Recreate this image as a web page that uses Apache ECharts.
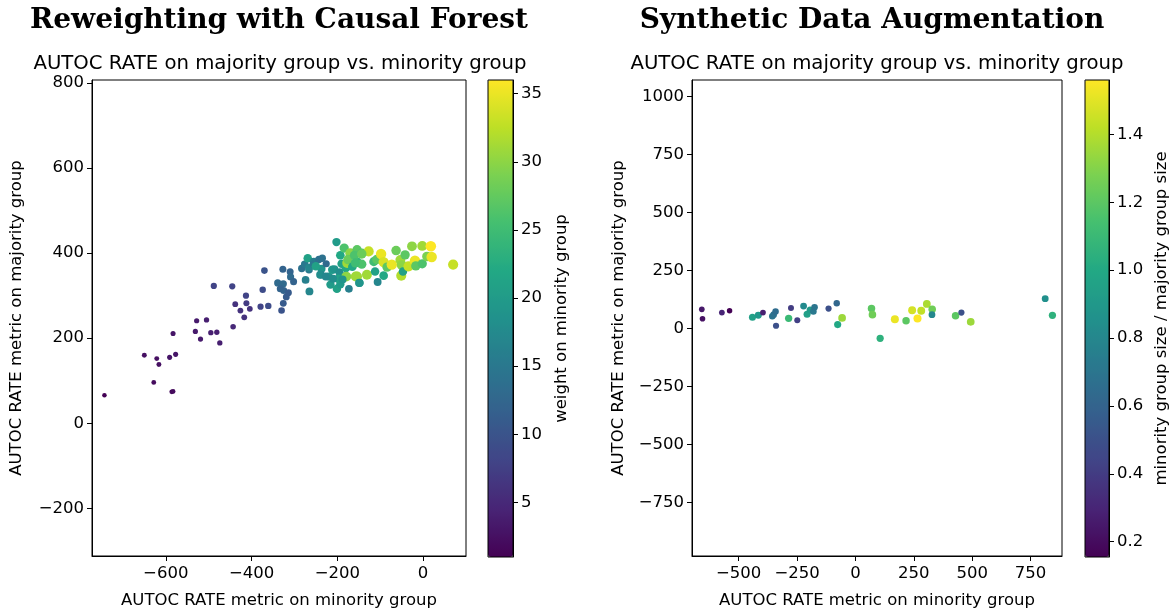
<!DOCTYPE html>
<html>
<head>
<meta charset="utf-8">
<script src="https://cdn.jsdelivr.net/npm/echarts@6/dist/echarts.min.js"></script>
<style>html,body{margin:0;padding:0;background:#fff;}#c{width:1174px;height:614px;}</style>
</head>
<body>
<div id="c"></div>
<script>
// Left panel: [minority AUTOC, majority AUTOC, weight on minority group]
const reweightPoints = [
  [-743,66,1.0],[-586,74,2],[-583,75,2],[-628,96,2],[-650,160,2.5],[-621,152,2.5],[-616,138,2.5],
  [-591,155,3],[-577,162,3],[-583,211,3],[-531,216,3.5],[-528,241,3.5],[-505,243,4],[-519,198,3.5],
  [-495,213,4],[-481,214,4],[-474,189,4],[-443,227,5],
  [-488,323,8],[-445,322,8],[-413,300,8],[-374,314,9],[-438,280,6],[-412,282,7],[-426,265,6],
  [-404,269,6],[-417,249,6],[-379,274,8],[-361,276,9],[-370,359,10],[-327,362,12],[-310,356,12],
  [-330,265,10],[-326,282,11],[-319,297,11],[-339,330,13],[-326,328,13],[-333,316,12],[-325,312,12],
  [-314,307,11],[-309,344,13],[-302,333,12],
  [-283,364,14],[-276,374,15],[-274,337,16],[-266,361,15],[-269,388,21],[-265,310,17],[-255,380,16],
  [-266,366,17],[-256,374,15],[-243,385,14],[-235,388,14],[-237,363,19],[-238,349,15],[-226,375,13],
  [-250,369,21],[-240,349,18],
  [-220,345,19],[-216,326,20],[-212,361,20],[-207,362,19],[-202,426,20],[-201,316,21],[-193,327,20],
  [-193,395,22],[-184,412,26],[-190,375,21],[-195,355,18],[-185,345,19],[-180,365,22],[-173,316,16],
  [-170,400,30],[-154,408,27],[-143,400,26],[-177,377,31],[-175,385,28],[-154,380,24],[-143,374,26],
  [-179,345,30],[-157,345,31],[-148,330,20],[-160,395,26],[-165,368,22],[-198,340,21],[-210,340,18],
  [-227,345,17],[-188,338,19],
  [-127,404,33],[-143,398,28],[-158,377,25],[-154,345,31],[-131,349,31],[-149,330,19],[-112,357,21],
  [-106,332,17],[-92,347,22],[-115,380,25],[-108,385,27],[-98,398,35],[-92,379,34],[-84,367,27],
  [-73,373,35],[-63,406,28],[-53,384,31],[-50,372,30],[-42,396,27],[-51,347,32],[-47,357,21],
  [-34,369,33],[-19,382,35],[-26,416,30],[-17,370,27],[-2,417,31],[-2,375,26],[9,392,29],
  [18,416,36],[20,391,35],[70,373,33]
];
// Right panel: [minority AUTOC, majority AUTOC, minority size / majority size]
const synthPoints = [
  [-658,83,0.25],[-655,42,0.22],[-572,69,0.3],[-539,77,0.16],[-441,49,0.95],[-416,57,0.9],
  [-396,69,0.28],[-356,53,0.7],[-350,60,0.68],[-342,73,0.65],[-340,12,0.5],[-286,44,1.1],
  [-276,89,0.4],[-249,36,0.42],[-222,97,0.82],[-207,62,0.95],[-194,80,0.92],[-180,74,0.72],
  [-175,92,0.7],[-115,86,0.5],[-80,109,0.62],[-57,46,1.35],[-76,17,1.0],[69,87,1.2],[73,60,1.25],
  [106,-42,1.05],[169,40,1.52],[217,34,1.2],[243,79,1.47],[266,43,1.56],[282,77,1.43],
  [306,106,1.38],[329,83,1.25],[328,60,0.8],[429,55,1.2],[454,69,0.5],[494,29,1.35],
  [813,129,0.85],[844,57,1.05]
];
const leftXTicks = [-600,-400,-200,0];
const leftYTicks = [-200,0,200,400,600,800];
const leftCbarTicks = [5,10,15,20,25,30,35];
const rightXTicks = [-500,-250,0,250,500,750];
const rightYTicks = [-750,-500,-250,0,250,500,750,1000];
const rightCbarTicks = [0.2,0.4,0.6,0.8,1.0,1.2,1.4];

const viridis = ['#440154','#482475','#414487','#355f8d','#2a788e','#21918c','#22a884','#44bf70','#7ad151','#bddf26','#fde725'];
const FONT = 'DejaVu Sans';
const FS = 16.5;
const minus = v => String(v).replace('-', '\u2212');

function valAxis(opt, margin) {
  return Object.assign({
    type: 'value',
    axisLine: {show: true, onZero: false, lineStyle: {color: '#000', width: 1}},
    axisTick: {show: true, length: 5, lineStyle: {color: '#000', width: 1}},
    splitLine: {show: false},
    axisLabel: {color: '#000', fontFamily: FONT, fontSize: FS, margin: margin || 8},
    nameTextStyle: {color: '#000', fontFamily: FONT, fontSize: FS},
    nameLocation: 'middle'
  }, opt);
}
function ticks(axis, vals, fmt) {
  axis.axisTick.customValues = vals;
  axis.axisLabel = Object.assign({}, axis.axisLabel, {customValues: vals, formatter: fmt || (v => minus(v))});
  return axis;
}
const hidden = (gi) => ({type: 'value', gridIndex: gi, min: 0, max: 1, show: false});

const chart = echarts.init(document.getElementById('c'), null, {renderer: 'canvas'});
chart.setOption({
  animation: false,
  backgroundColor: '#fff',
  grid: [
    {left: 92, top: 80, width: 374, height: 477, show: true, borderColor: '#000', borderWidth: 1, z: 0},
    {left: 488, top: 80, width: 25, height: 477, show: true, borderColor: '#000', borderWidth: 1, z: 10},
    {left: 692, top: 80, width: 370, height: 477, show: true, borderColor: '#000', borderWidth: 1, z: 0},
    {left: 1085, top: 80, width: 24, height: 477, show: true, borderColor: '#000', borderWidth: 1, z: 10}
  ],
  xAxis: [
    ticks(valAxis({gridIndex: 0, min: -772, max: 100, name: 'AUTOC RATE metric on minority group', nameGap: 36}, 9), leftXTicks),
    hidden(1),
    ticks(valAxis({gridIndex: 2, min: -700, max: 885, name: 'AUTOC RATE metric on minority group', nameGap: 36}, 9), rightXTicks),
    hidden(3)
  ],
  yAxis: [
    ticks(valAxis({gridIndex: 0, min: -312, max: 807, name: 'AUTOC RATE metric on majority group', nameGap: 67}), leftYTicks),
    ticks(valAxis({gridIndex: 1, min: 1, max: 36, position: 'right', name: 'weight on minority group', nameGap: 40, nameRotate: 90}), leftCbarTicks),
    ticks(valAxis({gridIndex: 2, min: -981, max: 1072, name: 'AUTOC RATE metric on majority group', nameGap: 65}), rightYTicks),
    ticks(valAxis({gridIndex: 3, min: 0.155, max: 1.56, position: 'right', name: 'minority group size / majority group size', nameGap: 44, nameRotate: 90}), rightCbarTicks, v => v.toFixed(1))
  ],
  visualMap: [
    {type: 'continuous', seriesIndex: 0, dimension: 2, min: 1, max: 36, inRange: {color: viridis},
     left: 488, top: 80, itemWidth: 25, itemHeight: 477, calculable: false, text: null, padding: 0, show: true, z: 4},
    {type: 'continuous', seriesIndex: 1, dimension: 2, min: 0.155, max: 1.56, inRange: {color: viridis},
     left: 1085, top: 80, itemWidth: 24, itemHeight: 477, calculable: false, text: null, padding: 0, show: true, z: 4}
  ],
  series: [
    {type: 'scatter', xAxisIndex: 0, yAxisIndex: 0, data: reweightPoints,
     symbolSize: v => Math.sqrt(18 + 2.6 * v[2]), itemStyle: {opacity: 1}, z: 3},
    {type: 'scatter', xAxisIndex: 2, yAxisIndex: 2, data: synthPoints,
     symbolSize: v => Math.sqrt(26 + 25 * v[2]), itemStyle: {opacity: 1}, z: 3}
  ],
  graphic: [
    {type: 'text', x: 279, y: 21, style: {text: 'Reweighting with Causal Forest', textAlign: 'center', textVerticalAlign: 'middle', fontFamily: 'DejaVu Serif', fontWeight: 'bold', fontSize: 28, fill: '#000'}},
    {type: 'text', x: 872, y: 21, style: {text: 'Synthetic Data Augmentation', textAlign: 'center', textVerticalAlign: 'middle', fontFamily: 'DejaVu Serif', fontWeight: 'bold', fontSize: 28, fill: '#000'}},
    {type: 'text', x: 280, y: 64, style: {text: 'AUTOC RATE on majority group vs. minority group', textAlign: 'center', textVerticalAlign: 'middle', fontFamily: FONT, fontSize: 19.7, fill: '#000'}},
    {type: 'text', x: 877, y: 64, style: {text: 'AUTOC RATE on majority group vs. minority group', textAlign: 'center', textVerticalAlign: 'middle', fontFamily: FONT, fontSize: 19.7, fill: '#000'}}
  ]
});
</script>
</body>
</html>
